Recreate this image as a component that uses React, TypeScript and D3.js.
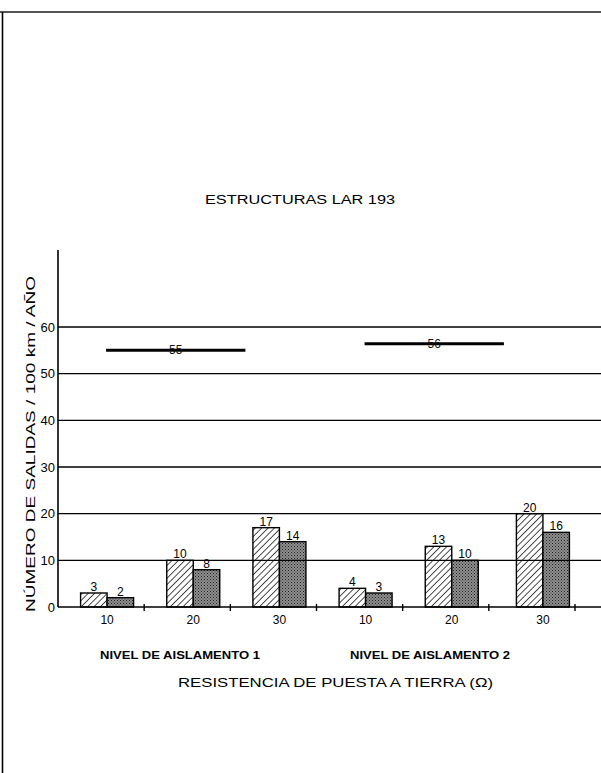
import React from "react";
import * as d3 from "d3";

const categories = ["10", "20", "30", "10", "20", "30"];
const seriesHatched = [3, 10, 17, 4, 13, 20];
const seriesDotted = [2, 8, 14, 3, 10, 16];
const yTicks = [0, 10, 20, 30, 40, 50, 60];
const groupNames = ["NIVEL DE AISLAMENTO 1", "NIVEL DE AISLAMENTO 2"];
const groupLevels = [55, 56];
const title = "ESTRUCTURAS LAR 193";
const yLabel = "NÚMERO DE SALIDAS / 100 km / AÑO";
const xLabel = "RESISTENCIA DE PUESTA A TIERRA (Ω)";

const W = 601;
const H = 773;
const FONT = "'Liberation Sans', Arial, sans-serif";

export default function App() {
  const x = d3
    .scaleBand<number>()
    .domain(d3.range(categories.length))
    .range([58, 575])
    .paddingInner(0)
    .paddingOuter(0);
  const y = d3.scaleLinear().domain([0, 60]).range([607, 327]);
  const barW = 26.5;
  const off = 6;
  const cx = (i: number) => (x(i) as number) + x.bandwidth() / 2 + off + (i === 5 ? 5 : 0);

  const boundaries = d3.range(1, categories.length + 1).map((i) => 58 + x.step() * i);

  return (
    <svg
      width={W}
      height={H}
      style={{ position: "absolute", left: 0, top: 0, background: "#fff" }}
      fontFamily={FONT}
    >
      <defs>
        <pattern id="hatch" patternUnits="userSpaceOnUse" width="4.5" height="4.5" patternTransform="rotate(45)">
          <rect width="4.5" height="4.5" fill="#fff" />
          <line x1="0" y1="0" x2="0" y2="4.5" stroke="#000" strokeWidth="1.4" />
        </pattern>
        <pattern id="dots" patternUnits="userSpaceOnUse" width="3" height="3">
          <rect width="3" height="3" fill="#8f8f8f" />
          <rect x="0" y="0" width="1" height="1" fill="#222" />
          <rect x="1.5" y="1.5" width="1" height="1" fill="#333" />
        </pattern>
      </defs>

      {/* frame */}
      <line x1={0} y1={12} x2={W} y2={12} stroke="#555" strokeWidth={2} />
      <line x1={2.5} y1={12} x2={2.5} y2={H} stroke="#000" strokeWidth={1.6} />

      {/* title */}
      <text x={300} y={204} textAnchor="middle" fontSize={12} textLength={190} lengthAdjust="spacingAndGlyphs">
        {title}
      </text>

      {/* bars */}
      {categories.map((c, i) => (
        <g key={"b" + i}>
          <rect
            x={cx(i) - barW}
            y={y(seriesHatched[i])}
            width={barW}
            height={y(0) - y(seriesHatched[i])}
            fill="url(#hatch)"
            stroke="#000"
            strokeWidth={1.4}
          />
          <rect
            x={cx(i)}
            y={y(seriesDotted[i])}
            width={barW}
            height={y(0) - y(seriesDotted[i])}
            fill="url(#dots)"
            stroke="#000"
            strokeWidth={1.4}
          />
          <text x={cx(i) - barW / 2} y={y(seriesHatched[i]) - 2} textAnchor="middle" fontSize={12}>
            {seriesHatched[i]}
          </text>
          <text x={cx(i) + barW / 2} y={y(seriesDotted[i]) - 2} textAnchor="middle" fontSize={12}>
            {seriesDotted[i]}
          </text>
          <text x={cx(i)} y={624} textAnchor="middle" fontSize={12}>
            {c}
          </text>
        </g>
      ))}

      {/* gridlines */}
      {yTicks.map((t) => (
        <g key={"t" + t}>
          <line x1={58} x2={W} y1={y(t)} y2={y(t)} stroke="#000" strokeWidth={1.4} />
          <text x={55} y={y(t) + 4.5} textAnchor="end" fontSize={13}>
            {t}
          </text>
        </g>
      ))}

      {/* y axis */}
      <line x1={58} x2={58} y1={250} y2={y(0)} stroke="#000" strokeWidth={1.6} />

      {/* category separator ticks */}
      {boundaries.map((b, i) => (
        <line key={"k" + i} x1={b} x2={b} y1={y(0) - 3} y2={y(0) + 4} stroke="#000" strokeWidth={1.4} />
      ))}

      {/* level lines */}
      {groupLevels.map((v, g) => {
        const x1 = (x(g * 3) as number) + x.bandwidth() / 2 + 5;
        const x2 = (x(g * 3 + 2) as number) + x.bandwidth() / 2 - 28;
        const yy = y(v) - (g === 1 ? 2 : 0);
        return (
          <g key={"l" + g}>
            <line x1={x1} x2={x2} y1={yy} y2={yy} stroke="#000" strokeWidth={3} />
            <text x={(x1 + x2) / 2} y={yy + 4} textAnchor="middle" fontSize={12} fill="#111">
              {v}
            </text>
          </g>
        );
      })}

      {/* group names */}
      {groupNames.map((n, g) => (
        <text
          key={"g" + g}
          x={g === 0 ? 100 : 350}
          y={659}
          fontSize={10}
          fontWeight="bold"
          textLength={160}
          lengthAdjust="spacingAndGlyphs"
        >
          {n}
        </text>
      ))}

      {/* x label */}
      <text x={178} y={687} fontSize={13} textLength={315} lengthAdjust="spacingAndGlyphs">
        {xLabel}
      </text>

      {/* y label */}
      <text
        transform="translate(35,612) rotate(-90)"
        x={0}
        y={0}
        fontSize={13}
        textLength={336}
        lengthAdjust="spacingAndGlyphs"
      >
        {yLabel}
      </text>
    </svg>
  );
}
